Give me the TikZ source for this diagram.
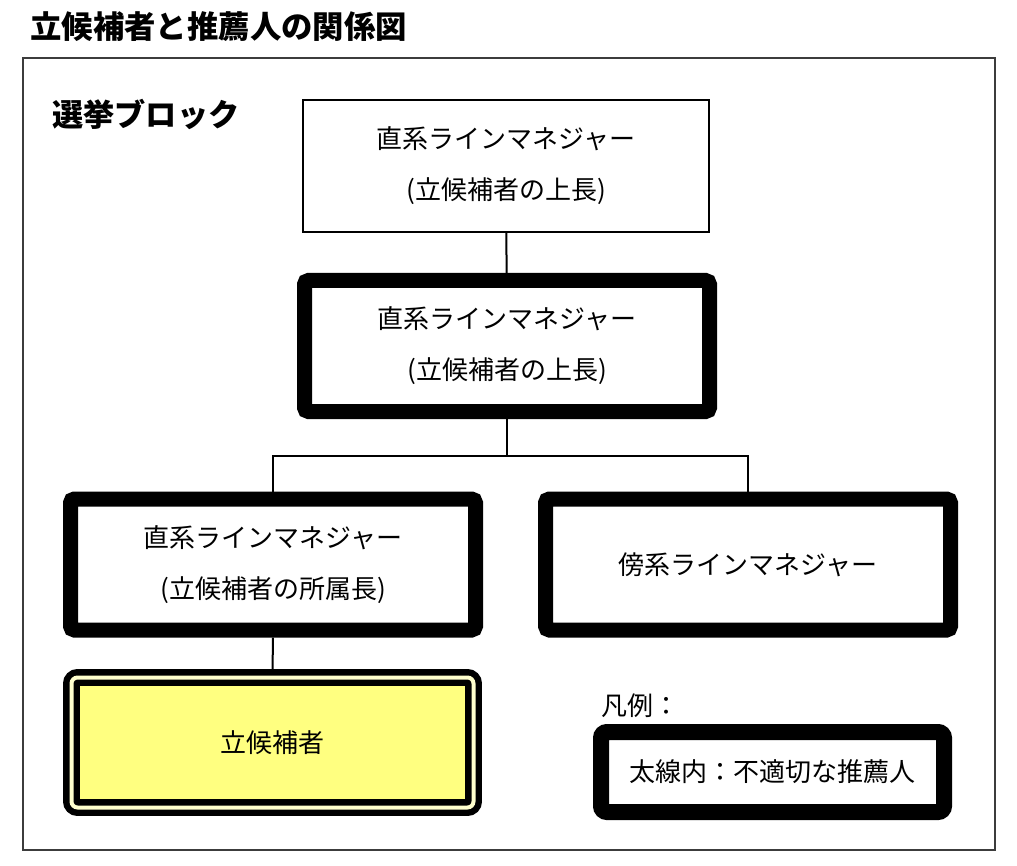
\documentclass[tikz,border=0pt]{standalone}
\usepackage{fontspec}
\newfontfamily\jp{Noto Sans CJK JP}
\usepackage{tikz}
\usetikzlibrary{positioning}
\definecolor{framegray}{RGB}{60,60,60}
\definecolor{candfill}{RGB}{255,255,128}
\definecolor{candgap}{RGB}{255,255,205}

\begin{document}
\begin{tikzpicture}[x=0.5pt, y=-0.5pt]
\tikzstyle{every node}=[inner sep=0pt, align=center,
                        font=\jp\fontsize{13}{25.5}\selectfont]
\tikzstyle{thinbox}=[draw, line width=1pt, fill=white,
                     minimum width=203pt, minimum height=66pt]
\tikzstyle{thickbox}=[draw, line width=7.5pt, rounded corners=2pt, fill=white,
                      minimum width=202.5pt, minimum height=65.5pt]
\tikzstyle{candbox}=[draw, line width=3.2pt, double=candgap, double distance=2pt,
                     rounded corners=3pt, fill=candfill,
                     minimum width=201pt, minimum height=65pt]
\tikzstyle{legendbox}=[draw, line width=8pt, rounded corners=3pt, fill=white,
                       minimum width=171.5pt, minimum height=40pt]
\tikzstyle{link}=[line width=1pt]
\useasboundingbox (0,0) rectangle (1017,866);
\draw[framegray, line width=1pt] (23,58) rectangle (995,850);
\node[anchor=west, font=\jp\bfseries\fontsize{15.7}{18}\selectfont] (title) at (30,27) {立候補者と推薦人の関係図};
\node[anchor=west, font=\jp\bfseries\fontsize{15.6}{18}\selectfont] (block) at (52,114) {選挙ブロック};
\node[thinbox] (top) at (506,166) {直系ラインマネジャー\\(立候補者の上長)};
\node[thickbox] (upper) at (507,346) {直系ラインマネジャー\\(立候補者の上長)};
\node[thickbox] (own) at (273,564.5) {直系ラインマネジャー\\(立候補者の所属長)};
\node[thickbox] (side) at (748,564.5) {傍系ラインマネジャー};
\node[candbox] (cand) at (272.5,742.5) {立候補者};
\node[anchor=west] (legendtitle) at (601,706) {凡例：};
\node[legendbox] (legend) at (772.5,772) {太線内：不適切な推薦人};
\coordinate (split) at (507,456);
\draw[link] (top) -- (upper);
\draw[link] (upper) -- (split);
\draw[link] (split) -| (own);
\draw[link] (split) -| (side);
\draw[link] (own) -- (cand);
\end{tikzpicture}
\end{document}
